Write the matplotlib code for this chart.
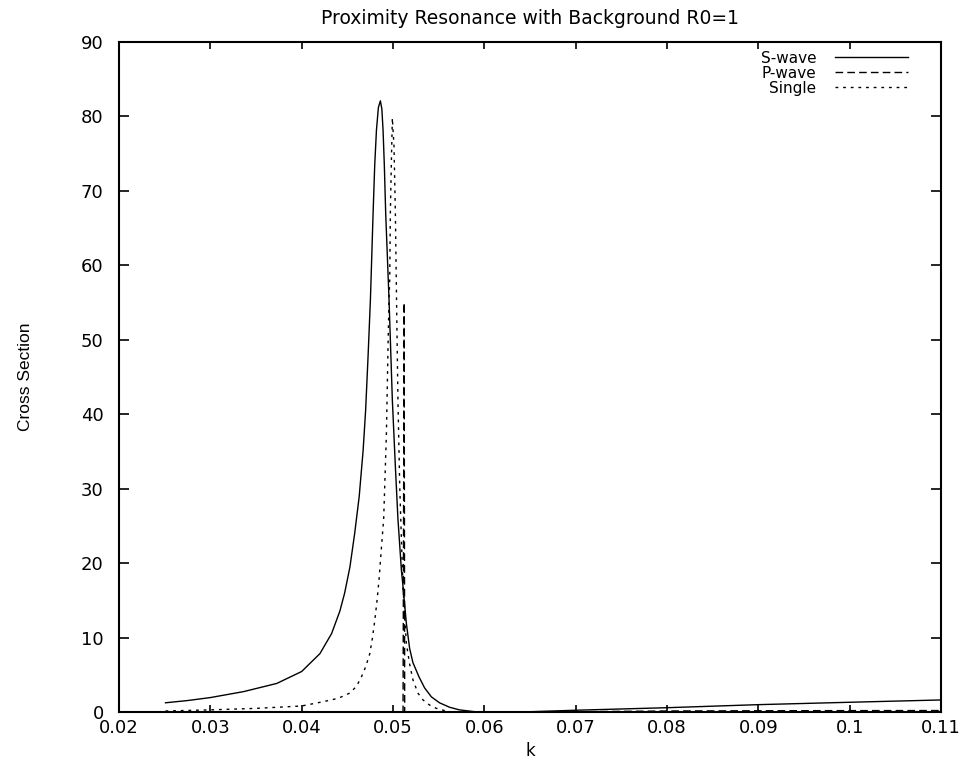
import matplotlib
matplotlib.use('Agg')
import matplotlib.pyplot as plt

plt.rcParams['font.family'] = ['DejaVu Sans']

# S-wave
k_s = [0.02509, 0.0275, 0.0300, 0.03364, 0.03728, 0.0400, 0.0420, 0.04328, 0.04418,
       0.0447, 0.04528, 0.0458, 0.0463, 0.04673, 0.0470, 0.04727, 0.04753, 0.04782,
       0.0480, 0.04819, 0.0484, 0.04862, 0.04878, 0.04891, 0.04905, 0.0492, 0.04956,
       0.04993, 0.05026, 0.05054, 0.05092, 0.05109, 0.05146, 0.05182, 0.05218, 0.05284,
       0.05346, 0.0542, 0.05509, 0.0562, 0.05727, 0.0591, 0.062, 0.065, 0.07, 0.08,
       0.09, 0.10, 0.11]
cs_s = [1.3, 1.6, 2.0, 2.8, 3.9, 5.5, 7.9, 10.6, 13.6,
        16.0, 19.5, 24.0, 29.0, 35.2, 40.5, 47.8, 55.5, 67.0,
        73.5, 78.2, 81.2, 82.1, 81.0, 78.2, 73.5, 67.0, 55.6,
        41.9, 33.0, 26.0, 19.1, 17.0, 12.0, 8.6, 6.7, 4.8,
        3.3, 2.1, 1.3, 0.7, 0.35, 0.08, 0.02, 0.1, 0.3, 0.64,
        1.05, 1.37, 1.68]

# P-wave
k_p = [0.02509, 0.03, 0.04, 0.05, 0.0511, 0.05122, 0.05128, 0.053, 0.06, 0.07, 0.08, 0.09, 0.10, 0.11]
cs_p = [0.0, 0.0, 0.0, 0.0, 0.1, 55.0, 0.1, 0.0, 0.0, 0.1, 0.2, 0.23, 0.25, 0.26]

# Single
k_1 = [0.02509, 0.03, 0.035, 0.0400, 0.04236, 0.0440, 0.04526, 0.0460, 0.04655,
       0.0470, 0.04746, 0.04775, 0.04801, 0.04825, 0.04847, 0.0488, 0.04898, 0.04928,
       0.04945, 0.04956, 0.04964, 0.04971, 0.04982, 0.04993, 0.05011, 0.05026, 0.05037,
       0.05054, 0.05073, 0.05084, 0.05109, 0.05146, 0.05182, 0.05218, 0.05273, 0.05327,
       0.0540, 0.05473, 0.0555, 0.05618, 0.06, 0.07, 0.08, 0.09, 0.10, 0.11]
cs_1 = [0.2, 0.35, 0.55, 0.87, 1.45, 1.9, 2.6, 3.5, 4.8,
        6.1, 7.9, 10.0, 12.4, 15.0, 17.8, 23.2, 26.0, 37.5,
        48.7, 55.4, 58.0, 67.0, 73.8, 79.8, 76.0, 67.0, 57.0,
        42.0, 30.8, 26.3, 17.0, 9.3, 6.5, 4.4, 2.6, 1.7,
        1.0, 0.56, 0.3, 0.07, 0.0, 0.02, 0.05, 0.08, 0.1, 0.12]

fig = plt.figure(figsize=(9.59, 7.59), dpi=100)
ax = fig.add_axes([0.1241, 0.0613, 0.8571, 0.8834])

ax.plot(k_s, cs_s, color='black', lw=1.0, label='S-wave')
ax.plot(k_p, cs_p, color='black', lw=1.0, dashes=(5.5, 3), label='P-wave')
ax.plot(k_1, cs_1, color='black', lw=1.0, dashes=(2, 3.5), label='Single')

ax.set_xlim(0.02, 0.11)
ax.set_ylim(0, 90)
ax.set_xticks([0.02, 0.03, 0.04, 0.05, 0.06, 0.07, 0.08, 0.09, 0.1, 0.11])
ax.set_xticklabels(['0.02', '0.03', '0.04', '0.05', '0.06', '0.07', '0.08', '0.09', '0.1', '0.11'])
ax.set_yticks(range(0, 91, 10))

ax.tick_params(axis='x', direction='in', length=5, width=1.2, top=True, labelsize=13, pad=5)
ax.tick_params(axis='y', direction='in', length=7, width=1.2, right=True, labelsize=13, pad=11)
for sp in ax.spines.values():
    sp.set_linewidth(1.5)

ax.set_title('Proximity Resonance with Background R0=1', fontsize=13.5, pad=13)
ax.set_xlabel('k', fontsize=12, labelpad=3)
ax.set_ylabel('Cross Section', fontsize=12.5, family=['Liberation Sans', 'DejaVu Sans'])
ax.yaxis.set_label_coords(-0.105, 0.5)

leg = ax.legend(loc='upper right', frameon=False, markerfirst=False, fontsize=11,
                handlelength=4.8, handletextpad=1.2, labelspacing=0.0,
                borderpad=0, borderaxespad=0, bbox_to_anchor=(0.9599, 0.987))

plt.savefig('out.png', dpi=100)
